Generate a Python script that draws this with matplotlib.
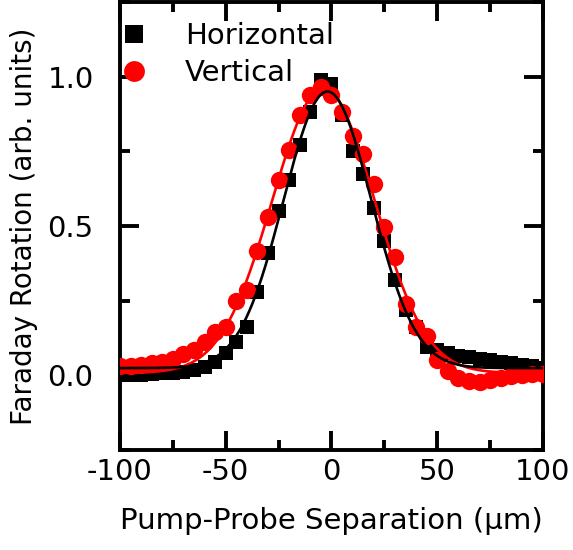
import matplotlib
matplotlib.use('Agg')
import matplotlib.pyplot as plt
import numpy as np

# pump-probe separation (um), 5 um steps
sep = np.arange(-100, 101, 5)

horizontal = [0.000, 0.000, 0.002, 0.004, 0.006, 0.008, 0.010, 0.018, 0.028, 0.045,
              0.075, 0.110, 0.160, 0.280, 0.410, 0.550, 0.655, 0.770, 0.880, 0.990,
              0.975, 0.870, 0.750, 0.675, 0.560, 0.450, 0.320, 0.220, 0.160, 0.095,
              0.085, 0.075, 0.065, 0.060, 0.055, 0.050, 0.045, 0.040, 0.035, 0.030,
              0.025]

vertical = [0.030, 0.030, 0.035, 0.040, 0.045, 0.055, 0.070, 0.085, 0.110, 0.145,
            0.160, 0.250, 0.285, 0.415, 0.530, 0.655, 0.755, 0.870, 0.940, 0.965,
            0.940, 0.880, 0.800, 0.740, 0.640, 0.495, 0.395, 0.240, 0.160, 0.130,
            0.050, 0.015, -0.010, -0.020, -0.022, -0.015, -0.008, -0.004, 0.000, 0.003,
            0.003]


def gauss_fit(x, y):
    # grid over centre and width, amplitude and offset solved linearly
    x = np.asarray(x, float)
    y = np.asarray(y, float)
    x0 = np.arange(-15, 10, 0.1)[:, None, None]
    w = np.arange(10, 40, 0.1)[None, :, None]
    g = np.exp(-(x - x0) ** 2 / (2 * w ** 2))
    n = len(x)
    sg, sgg = g.sum(-1), (g * g).sum(-1)
    sgy, sy = (g * y).sum(-1), y.sum()
    det = sgg * n - sg ** 2
    a = (sgy * n - sg * sy) / det
    c = (sgg * sy - sg * sgy) / det
    err = ((a[..., None] * g + c[..., None] - y) ** 2).sum(-1)
    i, j = np.unravel_index(np.argmin(err), err.shape)
    return x0[i, 0, 0], w[0, j, 0], a[i, j], c[i, j]


xf = np.linspace(-100, 100, 801)
fits = {}
for name, ys in (('h', horizontal), ('v', vertical)):
    m, s, amp, off = gauss_fit(sep, ys)
    fits[name] = amp * np.exp(-(xf - m) ** 2 / (2 * s ** 2)) + off

plt.rcParams['font.family'] = 'DejaVu Sans'
plt.rcParams['font.size'] = 21
plt.rcParams['axes.unicode_minus'] = False

fig = plt.figure(figsize=(5.73, 5.5), dpi=100)
ax = fig.add_axes([0.2094, 0.182, 0.7382, 0.8145])

ax.plot(sep, horizontal, 's', color='black', ms=10.5, mew=0, label='Horizontal', zorder=2)
ax.plot(sep, vertical, 'o', color='red', ms=12.5, mew=0, label='Vertical', zorder=3)
ax.plot(xf, fits['v'], color='red', lw=1.9, zorder=4)
ax.plot(xf, fits['h'], color='black', lw=1.9, zorder=5)

ax.set_xlim(-100, 100)
ax.set_ylim(-0.25, 1.25)
ax.set_xticks([-100, -50, 0, 50, 100])
ax.set_xticks(np.arange(-100, 101, 25), minor=True)
ax.set_yticks([0.0, 0.5, 1.0])
ax.set_yticks(np.arange(-0.25, 1.26, 0.25), minor=True)
ax.set_yticklabels(['0.0', '0.5', '1.0'])

for sp in ax.spines.values():
    sp.set_linewidth(2.8)
ax.tick_params(which='both', direction='in', top=True, right=True, width=2.8)
ax.tick_params(which='major', length=14)
ax.tick_params(which='minor', length=7)
ax.tick_params(axis='x', which='major', pad=6)
ax.tick_params(axis='y', which='major', pad=19)

ax.set_xlabel('Pump-Probe Separation (\u03bcm)', labelpad=15)
ax.set_ylabel('Faraday Rotation (arb. units)', labelpad=7, fontsize=20)

ax.legend(loc='upper left', bbox_to_anchor=(-0.05, 1.0), frameon=False,
          handlelength=1.0, handletextpad=1.25, labelspacing=0.3, markerscale=1.2,
          borderaxespad=0.3)

fig.savefig('out.png', dpi=100)
